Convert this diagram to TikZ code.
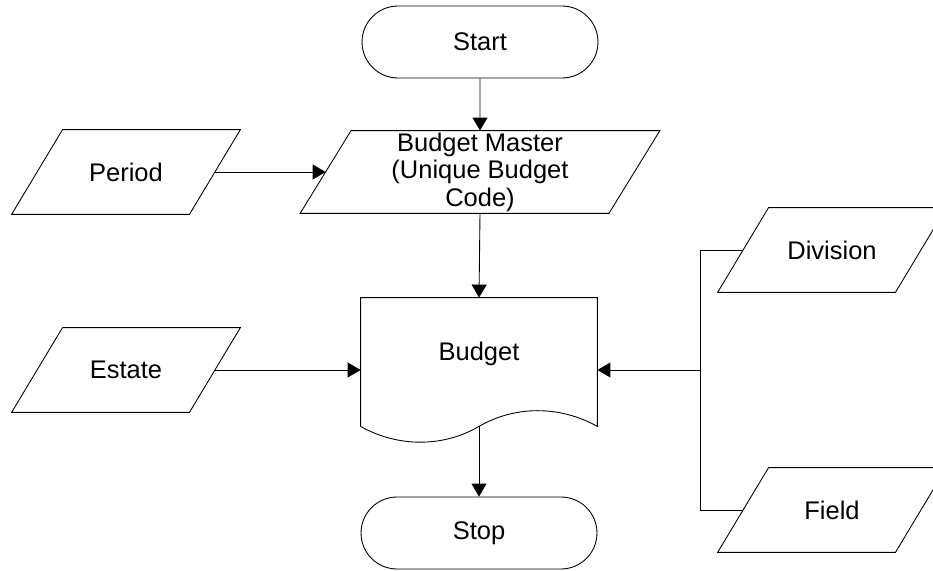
\documentclass[tikz,border=0pt]{standalone}
\usepackage{fontspec}
\setmainfont{Liberation Sans}
\usetikzlibrary{shapes.misc,arrows.meta,calc}

\begin{document}
\begin{tikzpicture}[x=0.02cm,y=-0.02cm,
  font=\fontsize{14.5}{15.6}\selectfont,
  line width=0.5pt,
  terminal/.style={draw,rounded rectangle,minimum width=4.72cm,
    minimum height=1.44cm,inner sep=0pt},
  % slanted box drawn round an invisible rectangle
  io/.style={minimum width=3.54cm,minimum height=1.68cm,inner sep=0pt,
    append after command={\pgfextra{\draw
      ([xshift=0.51cm]\tikzlastnode.north west)
      -- ([xshift=0.51cm]\tikzlastnode.north east)
      -- ([xshift=-0.51cm]\tikzlastnode.south east)
      -- ([xshift=-0.51cm]\tikzlastnode.south west) -- cycle;}}},
  arr/.style={-{Triangle[width=0.3cm,length=0.26cm]}}]

\useasboundingbox (0,0) rectangle (933,571);

% main column
\node[terminal] (start) at (480,42) {Start};
\node[io,minimum width=6.16cm,minimum height=1.64cm,align=center] (master)
  at (480,172) {Budget Master\\(Unique Budget\\Code)};
\node[minimum width=4.72cm,minimum height=2.24cm,inner sep=0pt] (budget)
  at (479,354) {Budget};
\node[terminal] (stop) at (479,533) {Stop};

% document shape with wavy bottom
\draw (budget.north west) -- (budget.north east)
  -- ($(budget.south east)+(0,16)$)
  .. controls ($(budget.south)+(81,-5)$) and ($(budget.south)+(36,-5)$)
  .. ($(budget.south)+(0,16)$) coordinate (wave)
  .. controls ($(budget.south)+(-36,37)$) and ($(budget.south)+(-81,37)$)
  .. ($(budget.south west)+(0,16)$) -- cycle;

% inputs
\node[io] (period) at (126,172) {Period};
\node[io] (estate) at (126,370) {Estate};
\node[io] (division) at (832,250) {Division};
\node[io] (field) at (832,510) {Field};
\coordinate (bus) at (700,370);

\draw[arr] (start) -- (master);
\draw[arr] (period.east) -- (master.west);
\draw[arr] (master.south) -- (budget.north);
\draw[arr] (estate.east) -- (estate.east -| budget.west);
\draw (division.west) -| (bus);
\draw (field.west) -| (bus);
\draw[arr] (bus) -- (bus -| budget.east);
\draw[arr] (wave) -- (stop.north);
\end{tikzpicture}
\end{document}
